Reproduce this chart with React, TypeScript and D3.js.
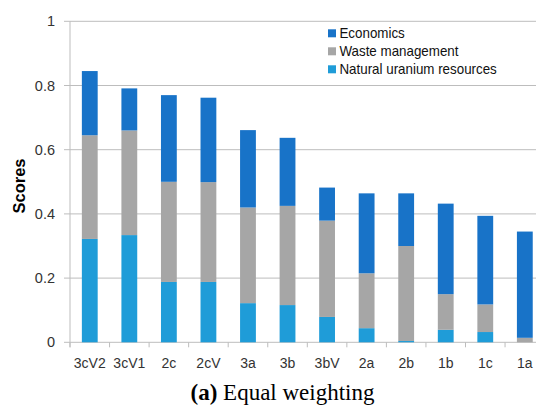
import React from "react";
import * as d3 from "d3";

const categories = ["3cV2", "3cV1", "2c", "2cV", "3a", "3b", "3bV", "2a", "2b", "1b", "1c", "1a"];
const naturalUranium = [0.322, 0.334, 0.188, 0.188, 0.122, 0.116, 0.079, 0.044, 0.004, 0.039, 0.032, 0.0];
const wasteManagement = [0.323, 0.326, 0.312, 0.311, 0.298, 0.309, 0.300, 0.171, 0.296, 0.111, 0.086, 0.014];
const economics = [0.200, 0.131, 0.270, 0.263, 0.241, 0.212, 0.103, 0.249, 0.164, 0.282, 0.276, 0.331];
const yTicks = [0, 0.2, 0.4, 0.6, 0.8, 1];
const seriesNames = ["Economics", "Waste management", "Natural uranium resources"];
const seriesColors = ["#1873C8", "#A6A6A6", "#1F9CD8"];

const W = 536;
const H = 407;
const font = "'Liberation Sans', Arial, sans-serif";

export default function App() {
  const x = d3.scaleBand<string>().domain(categories).range([70, 544.6]).paddingInner(0.6).paddingOuter(0.3);
  const y = d3.scaleLinear().domain([0, 1]).range([342.3, 21.3]);
  const step = x.step();
  const x0 = 70;

  const rows = categories.map((c, i) => ({
    cat: c,
    nat: naturalUranium[i],
    waste: wasteManagement[i],
    econ: economics[i],
  }));
  const stack = d3.stack<any>().keys(["nat", "waste", "econ"])(rows);
  const colorFor: Record<string, string> = { nat: seriesColors[2], waste: seriesColors[1], econ: seriesColors[0] };

  return (
    <svg width={W} height={H} style={{ position: "absolute", left: 0, top: 0, background: "#fff" }}>
      {yTicks.map((t) => (
        <line key={"g" + t} x1={x0} x2={W} y1={y(t)} y2={y(t)} stroke="#BDBDBD" strokeWidth={1} />
      ))}
      <line x1={x0} x2={x0} y1={y(1)} y2={y(0) + 5} stroke="#BDBDBD" strokeWidth={1} />
      {yTicks.map((t) => (
        <g key={"yt" + t}>
          <line x1={x0 - 6} x2={x0} y1={y(t)} y2={y(t)} stroke="#BDBDBD" />
          <text x={55} y={y(t)} dy="0.35em" textAnchor="end" fontFamily={font} fontSize={14.5} fill="#333">
            {d3.format("~g")(t)}
          </text>
        </g>
      ))}
      {categories.map((c, i) => (
        <line key={"xt" + c} x1={x0 + i * step} x2={x0 + i * step} y1={y(0)} y2={y(0) + 5} stroke="#BDBDBD" />
      ))}
      {categories.map((c) => (
        <text key={"xl" + c} x={(x(c) as number) + x.bandwidth() / 2} y={367.5} textAnchor="middle" fontFamily={font} fontSize={14} fill="#333">
          {c}
        </text>
      ))}
      {stack.map((s) =>
        s.map((d, i) => (
          <rect
            key={s.key + i}
            x={x(categories[i]) as number}
            width={x.bandwidth()}
            y={y(d[1])}
            height={Math.max(0, y(d[0]) - y(d[1]))}
            fill={colorFor[s.key]}
          />
        ))
      )}
      <text transform="translate(25,186) rotate(-90)" textAnchor="middle" fontFamily={font} fontSize={16.5} fontWeight="bold" fill="#000">
        Scores
      </text>
      {seriesNames.map((n, i) => (
        <g key={n} transform={`translate(328,${33.3 + i * 18})`}>
          <rect x={0} y={-4} width={8} height={8} fill={seriesColors[i]} />
          <text x={12} y={0} dy="0.35em" fontFamily={font} fontSize={14} fill="#111" transform="scale(0.955,1)">
            {n}
          </text>
        </g>
      ))}
      <text x={282.5} y={400} textAnchor="middle" fontFamily="'Liberation Serif', 'Times New Roman', serif" fontSize={23} fill="#000">
        <tspan fontWeight="bold">(a)</tspan> Equal weighting
      </text>
    </svg>
  );
}
